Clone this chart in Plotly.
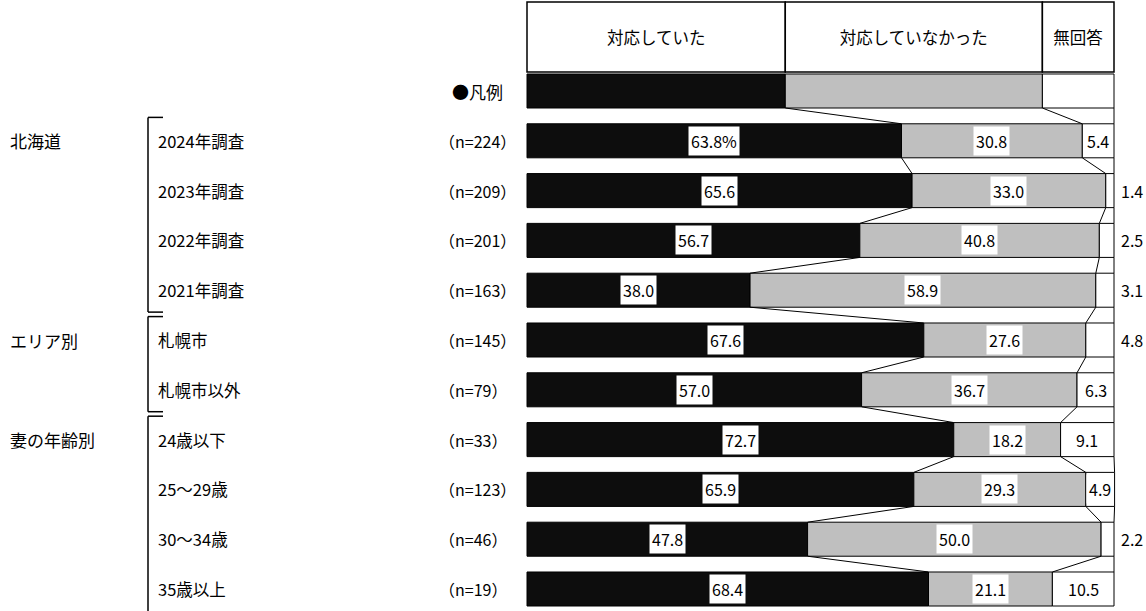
import plotly.graph_objects as go

# ---------------- data ----------------
series_names = ["対応していた", "対応していなかった", "無回答"]
series_colors = ["#0d0d0d", "#bfbfbf", "#ffffff"]

group_names = ["北海道", "エリア別", "妻の年齢別"]
group_sizes = [4, 2, 4]

row_labels = ["2024年調査", "2023年調査", "2022年調査", "2021年調査",
              "札幌市", "札幌市以外",
              "24歳以下", "25～29歳", "30～34歳", "35歳以上"]
n_labels = ["（n=224）", "（n=209）", "（n=201）", "（n=163）",
            "（n=145）", "（n=79）",
            "（n=33）", "（n=123）", "（n=46）", "（n=19）"]

responded = [63.8, 65.6, 56.7, 38.0, 67.6, 57.0, 72.7, 65.9, 47.8, 68.4]
not_responded = [30.8, 33.0, 40.8, 58.9, 27.6, 36.7, 18.2, 29.3, 50.0, 21.1]
no_answer = [5.4, 1.4, 2.5, 3.1, 4.8, 6.3, 9.1, 4.9, 2.2, 10.5]

legend_sample = [44.0, 43.8, 12.2]
legend_title = "●凡例"

# ---------------- layout constants ----------------
W, H = 1146, 611
BAR_W = 0.683
HEADER_Y = -1.084
HEADER_W = 1.406
FONT = "Noto Sans CJK JP"


def px(p):
    """window pixel x -> paper fraction"""
    return p / W


series = [responded, not_responded, no_answer]
rows = list(range(1, len(row_labels) + 1))

fig = go.Figure()

# header boxes (built from legend sample proportions)
bases = [0]
for v in legend_sample[:-1]:
    bases.append(bases[-1] + v)
fig.add_trace(go.Bar(
    orientation="h", y=[HEADER_Y] * 3, x=legend_sample, base=bases,
    width=HEADER_W, marker=dict(color="white", line=dict(color="black", width=1.5)),
    text=series_names, textposition="inside", insidetextanchor="middle",
    textfont=dict(family=FONT, size=16.5, color="black"),
    hoverinfo="skip", showlegend=False, cliponaxis=False))

# legend sample bar
for k in range(3):
    fig.add_trace(go.Bar(
        orientation="h", y=[0], x=[legend_sample[k]], base=[bases[k]],
        width=BAR_W, marker=dict(color=series_colors[k], line=dict(color="black", width=1)),
        hoverinfo="skip", showlegend=False))

# data bars
cum_start = [[0] * len(rows), [], []]
cum_start[1] = [a for a in responded]
cum_start[2] = [a + b for a, b in zip(responded, not_responded)]
for k in range(3):
    fig.add_trace(go.Bar(
        orientation="h", y=rows, x=series[k], base=cum_start[k],
        width=BAR_W, name=series_names[k],
        marker=dict(color=series_colors[k], line=dict(color="black", width=1)),
        showlegend=False))

# connecting lines between consecutive bars
all_cum1 = [legend_sample[0]] + cum_start[1]
all_cum2 = [legend_sample[0] + legend_sample[1]] + cum_start[2]
all_cum3 = [sum(legend_sample)] + [a + b + c for a, b, c in zip(*series)]
all_rows = [0] + rows
h = BAR_W / 2
for cum in (all_cum1, all_cum2, all_cum3):
    xs, ys = [], []
    for i in range(len(all_rows) - 1):
        xs += [cum[i], cum[i + 1], None]
        ys += [all_rows[i] + h, all_rows[i + 1] - h, None]
    fig.add_trace(go.Scatter(x=xs, y=ys, mode="lines",
                             line=dict(color="black", width=1),
                             hoverinfo="skip", showlegend=False))

annotations = []
# value labels
for i, r in enumerate(rows):
    vals = [responded[i], not_responded[i], no_answer[i]]
    for k in range(3):
        txt = f"{vals[k]:.1f}" + ("%" if (i == 0 and k == 0) else "")
        mid = cum_start[k][i] + vals[k] / 2
        if k == 2 and vals[k] < 4.85:
            annotations.append(dict(x=100, y=r, text=txt, showarrow=False,
                                    xanchor="left", xshift=5,
                                    font=dict(family=FONT, size=16, color="black")))
        else:
            annotations.append(dict(x=mid, y=r, text=txt, showarrow=False,
                                    bgcolor="white", borderpad=2,
                                    font=dict(family=FONT, size=16, color="black")))

# row labels and n labels
for i, r in enumerate(rows):
    annotations.append(dict(x=px(156), xref="paper", y=r, text=row_labels[i],
                            showarrow=False, xanchor="left",
                            font=dict(family=FONT, size=16.5, color="black")))
    annotations.append(dict(x=px(437), xref="paper", y=r, text=n_labels[i],
                            showarrow=False, xanchor="left",
                            font=dict(family=FONT, size=16, color="black")))
annotations.append(dict(x=px(450), xref="paper", y=0, text=legend_title,
                        showarrow=False, xanchor="left",
                        font=dict(family=FONT, size=17, color="black")))

# group labels and brackets
shapes = []
start = 1
for g, size in enumerate(group_sizes):
    first, last = start, start + size - 1
    annotations.append(dict(x=px(8), xref="paper", y=first, text=group_names[g],
                            showarrow=False, xanchor="left",
                            font=dict(family=FONT, size=17, color="black")))
    top = first - 0.5 + 0.03
    bottom = last + 0.5 - 0.06
    is_last = (g == len(group_sizes) - 1)
    if is_last:
        bottom = 11
    xl, xr = px(148), px(163)
    shapes.append(dict(type="line", xref="paper", yref="y", x0=xl, x1=xl,
                       y0=top, y1=bottom, line=dict(color="black", width=1.5)))
    shapes.append(dict(type="line", xref="paper", yref="y", x0=xl, x1=xr,
                       y0=top, y1=top, line=dict(color="black", width=1.5)))
    if not is_last:
        shapes.append(dict(type="line", xref="paper", yref="y", x0=xl, x1=xr,
                           y0=bottom, y1=bottom, line=dict(color="black", width=1.5)))
    start += size

# axis ranges: window px 527 -> 0 %, 1114 -> 100 % ; rows every 49.8 px, legend row at px 91
px_per_pct = (1114 - 527) / 100
x0 = -527 / px_per_pct
x1 = x0 + W / px_per_pct
row_px = 49.8
y_top = -91 / row_px
y_bot = y_top + H / row_px

fig.update_layout(
    width=W, height=H,
    margin=dict(l=0, r=0, t=0, b=0),
    paper_bgcolor="white", plot_bgcolor="white",
    barmode="overlay",
    xaxis=dict(range=[x0, x1], visible=False, fixedrange=True),
    yaxis=dict(range=[y_bot, y_top], visible=False, fixedrange=True),
    annotations=annotations, shapes=shapes,
    font=dict(family=FONT),
)

fig.write_html(
    "out.html",
    config={"displayModeBar": False},
    post_script="document.body.style.margin='0';document.body.style.overflow='hidden';",
)
